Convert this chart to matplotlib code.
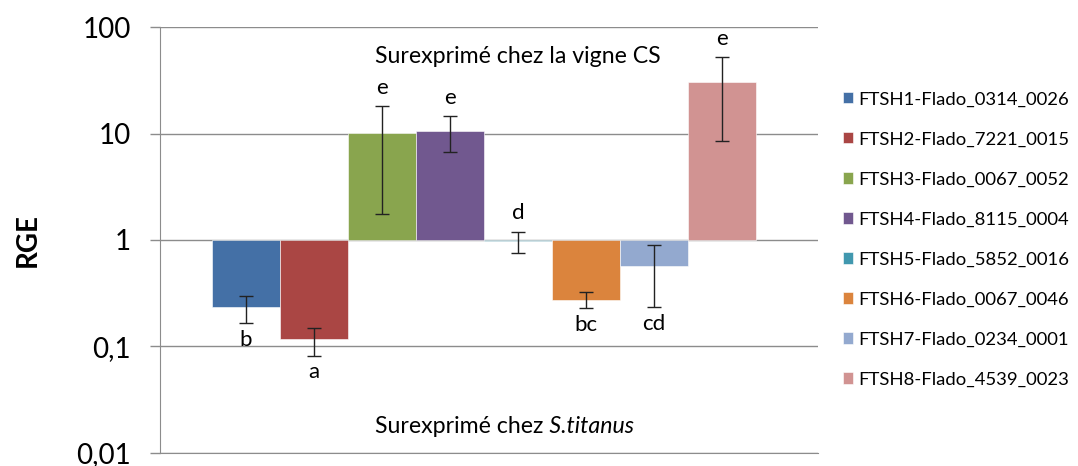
import numpy as np
import matplotlib.pyplot as plt
from matplotlib.ticker import FixedLocator, FixedFormatter, NullLocator

plt.rcParams['font.family'] = ['Lato', 'DejaVu Sans']

# données
genes = ['FTSH1-Flado_0314_0026', 'FTSH2-Flado_7221_0015', 'FTSH3-Flado_0067_0052',
         'FTSH4-Flado_8115_0004', 'FTSH5-Flado_5852_0016', 'FTSH6-Flado_0067_0046',
         'FTSH7-Flado_0234_0001', 'FTSH8-Flado_4539_0023']
rge = [0.233, 0.116, 10.15, 10.67, 0.97, 0.273, 0.573, 30.7]
err_low = [0.165, 0.082, 1.76, 6.76, 0.753, 0.23, 0.233, 8.46]
err_high = [0.30, 0.15, 18.1, 14.5, 1.2, 0.321, 0.903, 52.5]
letters = ['b', 'a', 'e', 'e', 'd', 'bc', 'cd', 'e']
colors = ['#4470A6', '#AA4644', '#89A54E', '#71588F', '#4198AF', '#DB843D', '#93A9CF', '#D19392']

yticks = [0.01, 0.1, 1, 10, 100]
ytick_labels = ['0,01', '0,1', '1', '10', '100']

fig = plt.figure(figsize=(10.78, 4.66), dpi=100)
ax = fig.add_axes([160 / 1078, 13.3 / 466, 658 / 1078, 425.4 / 466])

rge = np.array(rge)
lo = np.array(err_low)
hi = np.array(err_high)
x = np.arange(len(genes))

for i in range(len(genes)):
    ax.bar(x[i], rge[i] - 1, bottom=1, width=1.0, color=colors[i], label=genes[i],
           edgecolor='white', linewidth=0.4)

ax.errorbar(x, rge, yerr=[rge - lo, hi - rge], fmt='none', ecolor='#222222',
            elinewidth=1, capsize=5, capthick=1)

# lettres de significativité : au-dessus si surexprimé, en dessous sinon
for i in range(len(genes)):
    if rge[i] > 0.9:
        ax.annotate(letters[i], (x[i], hi[i]), xytext=(0, 6), textcoords='offset points',
                    ha='center', va='bottom', fontsize=16)
    else:
        ax.annotate(letters[i], (x[i], lo[i]), xytext=(0, -5), textcoords='offset points',
                    ha='center', va='top', fontsize=16)

ax.set_yscale('log')
ax.set_ylim(0.01, 100)
ax.set_xlim(-1.265, 8.41)
ax.yaxis.set_major_locator(FixedLocator(yticks))
ax.yaxis.set_major_formatter(FixedFormatter(ytick_labels))
ax.yaxis.set_minor_locator(NullLocator())
ax.set_xticks([])
ax.tick_params(axis='y', length=7, width=1, color='#8c8c8c', pad=14, labelsize=20)
ax.grid(axis='y', color='#8c8c8c', linewidth=1)
ax.set_axisbelow(True)
for s in ['top', 'right']:
    ax.spines[s].set_visible(False)
for s in ['left', 'bottom']:
    ax.spines[s].set_color('#8c8c8c')

ax.text(1.90, 46.5, 'Surexprimé chez la vigne CS', fontsize=16.7, ha='left', va='baseline')
t1 = ax.text(1.90, 0.0153, 'Surexprimé chez', fontsize=16.7, ha='left', va='baseline')
fig.canvas.draw()
w = t1.get_window_extent().width
ax.annotate(' S.titanus', (1.90, 0.0153), xytext=(w, 0), textcoords='offset pixels',
            fontsize=16.7, style='italic', ha='left', va='baseline')

fig.text(28 / 1078, 1 - 240 / 466, 'RGE', rotation=90, fontsize=20, weight='bold',
         ha='center', va='center')

fig.legend(loc='center left', bbox_to_anchor=(843 / 1078, 1 - 239.5 / 466), frameon=False,
           fontsize=13.3, handlelength=0.55, handleheight=0.55, handletextpad=0.3,
           labelspacing=1.3, borderpad=0, borderaxespad=0)

fig.savefig('out.png', dpi=100)
